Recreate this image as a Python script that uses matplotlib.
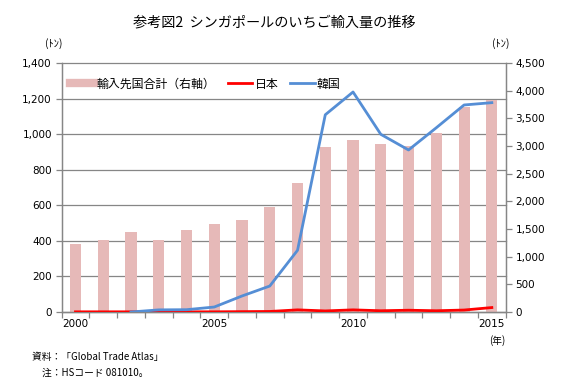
import numpy as np
import matplotlib
matplotlib.use("Agg")
import matplotlib.pyplot as plt
from matplotlib.lines import Line2D

plt.rcParams['font.family'] = ['Noto Sans CJK JP', 'DejaVu Sans']

years = list(range(2000, 2016))
total_import = [1230, 1300, 1450, 1300, 1480, 1590, 1665, 1895, 2330, 2980, 3105, 3035, 3000, 3240, 3710, 3830]
japan = [1, 1, 1, 1, 1, 1, 2, 3, 12, 6, 12, 7, 10, 7, 11, 25]
korea = [np.nan, np.nan, 0, 12, 13, 28, 90, 146, 347, 1109, 1237, 999, 911, 1036, 1164, 1177]
left_ticks = [0, 200, 400, 600, 800, 1000, 1200, 1400]
right_ticks = [0, 500, 1000, 1500, 2000, 2500, 3000, 3500, 4000, 4500]
xtick_labels = {2000: "2000", 2005: "2005", 2010: "2010", 2015: "2015"}

W, H = 570, 385
fig = plt.figure(figsize=(W / 100, H / 100), dpi=100)
L, R, B, T = 61.6, 505.7, 312, 63
axb = fig.add_axes([L / W, (H - B) / H, (R - L) / W, (B - T) / H])  # bars (right axis)
axl = axb.twinx()  # lines (left axis)

grid_c = '#868686'
x = np.arange(len(years))

# gridlines for left axis, behind bars
for t in left_ticks:
    axb.plot([0, 1], [t / left_ticks[-1]] * 2, transform=axb.transAxes,
             color=grid_c, lw=0.9, zorder=0, clip_on=False)

axb.bar(x, total_import, width=0.4, color='#E6B9B8', zorder=2)
axb.set_ylim(0, right_ticks[-1])
axb.set_xlim(-0.5, len(years) - 0.5)
axb.yaxis.tick_right()
axb.set_yticks(right_ticks)
axb.set_yticklabels([f"{v:,}" for v in right_ticks])

axl.plot(x, japan, color='#FF0000', lw=2, zorder=3)
axl.plot(x, korea, color='#558ED5', lw=2, zorder=3)
axl.set_ylim(0, left_ticks[-1])
axl.yaxis.tick_left()
axl.yaxis.set_label_position('left')
axl.set_yticks(left_ticks)
axl.set_yticklabels([f"{v:,}" for v in left_ticks])

# x axis: ticks at category boundaries, labels centered on categories
axb.set_xticks(np.arange(-0.5, len(years) + 0.5, 1.0))
axb.set_xticklabels([])
axb.set_xticks(x, minor=True)
axb.set_xticklabels([xtick_labels.get(y, "") for y in years], minor=True)
axb.tick_params(axis='x', which='minor', length=0, labelsize=7.5, pad=5)
axb.tick_params(axis='x', which='major', length=4, color=grid_c, width=0.9)
axb.tick_params(axis='y', length=4, color=grid_c, width=0.9, labelsize=7.5, pad=3)
axl.tick_params(axis='y', length=4, color=grid_c, width=0.9, labelsize=7.5, pad=3)
axl.tick_params(axis='x', length=0)

for a in (axb, axl):
    a.spines['top'].set_visible(False)
    for s in ('left', 'right', 'bottom'):
        a.spines[s].set_color(grid_c)
        a.spines[s].set_linewidth(0.9)
    for lab in a.get_yticklabels() + a.get_xticklabels(which='both'):
        lab.set_family('DejaVu Sans')

handles = [Line2D([0], [0], color='#E6B9B8', lw=6),
           Line2D([0], [0], color='#FF0000', lw=2),
           Line2D([0], [0], color='#558ED5', lw=2)]
labels = ['輸入先国合計（右軸）', '日本', '韓国']
leg = axl.legend(handles, labels, ncol=3, frameon=False, loc='upper left',
                 bbox_to_anchor=(0.0, 0.975), fontsize=8.6, handlelength=2.05,
                 handletextpad=0.2, columnspacing=1.0, borderaxespad=0.3)

fig.text(274 / W, 1 - 22 / H, '参考図2  シンガポールのいちご輸入量の推移', ha='center', va='center', fontsize=10.2)
fig.text(54 / W, 1 - 44 / H, '(ﾄﾝ)', ha='center', va='center', fontsize=7.5)
fig.text(501 / W, 1 - 44 / H, '(ﾄﾝ)', ha='center', va='center', fontsize=7.5)
fig.text(497 / W, 1 - 341 / H, '(年)', ha='center', va='center', fontsize=7)
fig.text(32 / W, 1 - 357 / H, '資料：「Global Trade Atlas」', ha='left', va='center', fontsize=7)
fig.text(42 / W, 1 - 373 / H, '注：HSコード 081010。', ha='left', va='center', fontsize=7)

fig.savefig('out.png', dpi=100)
